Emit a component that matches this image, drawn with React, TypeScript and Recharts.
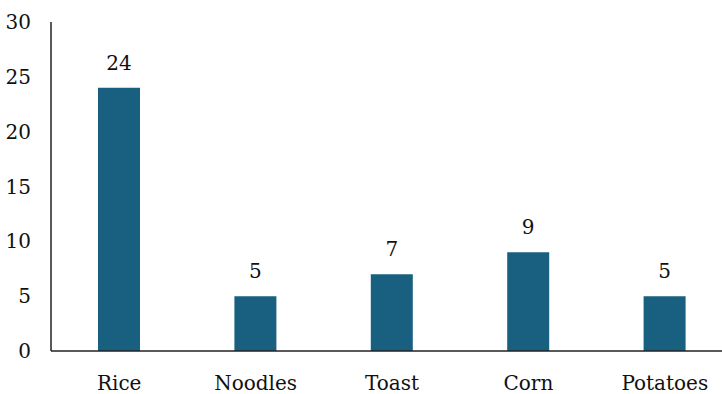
import { BarChart, Bar, XAxis, YAxis, LabelList } from 'recharts';

const categories = ['Rice', 'Noodles', 'Toast', 'Corn', 'Potatoes'];
const counts = [24, 5, 7, 9, 5];
const yTicks = [0, 5, 10, 15, 20, 25, 30];

const chartData = categories.map((name, i) => ({ name, count: counts[i] }));

const font = '"DejaVu Serif", serif';

export default function App() {
  return (
    <div style={{ position: 'fixed', left: 0, top: 0, width: 722, height: 394, overflow: 'hidden', background: '#fff' }}>
      <BarChart
        width={740}
        height={394}
        data={chartData}
        margin={{ top: 22, right: 7, left: 0, bottom: 0 }}
      >
        <XAxis
          dataKey="name"
          height={43}
          tickLine={false}
          tickSize={0}
          tickMargin={25}
          stroke="#222"
          strokeWidth={1.5}
          tick={{ fill: '#111', fontSize: 20, fontFamily: font }}
        />
        <YAxis
          width={51}
          domain={[0, 30]}
          ticks={yTicks}
          tickLine={false}
          tickSize={0}
          tickMargin={20}
          stroke="#222"
          strokeWidth={1.5}
          tick={{ fill: '#111', fontSize: 20, fontFamily: font }}
        />
        <Bar dataKey="count" fill="#185f80" barSize={42} isAnimationActive={false}>
          <LabelList
            dataKey="count"
            position="top"
            offset={18}
            style={{ fill: '#111', fontSize: 20, fontFamily: font }}
          />
        </Bar>
      </BarChart>
    </div>
  );
}
